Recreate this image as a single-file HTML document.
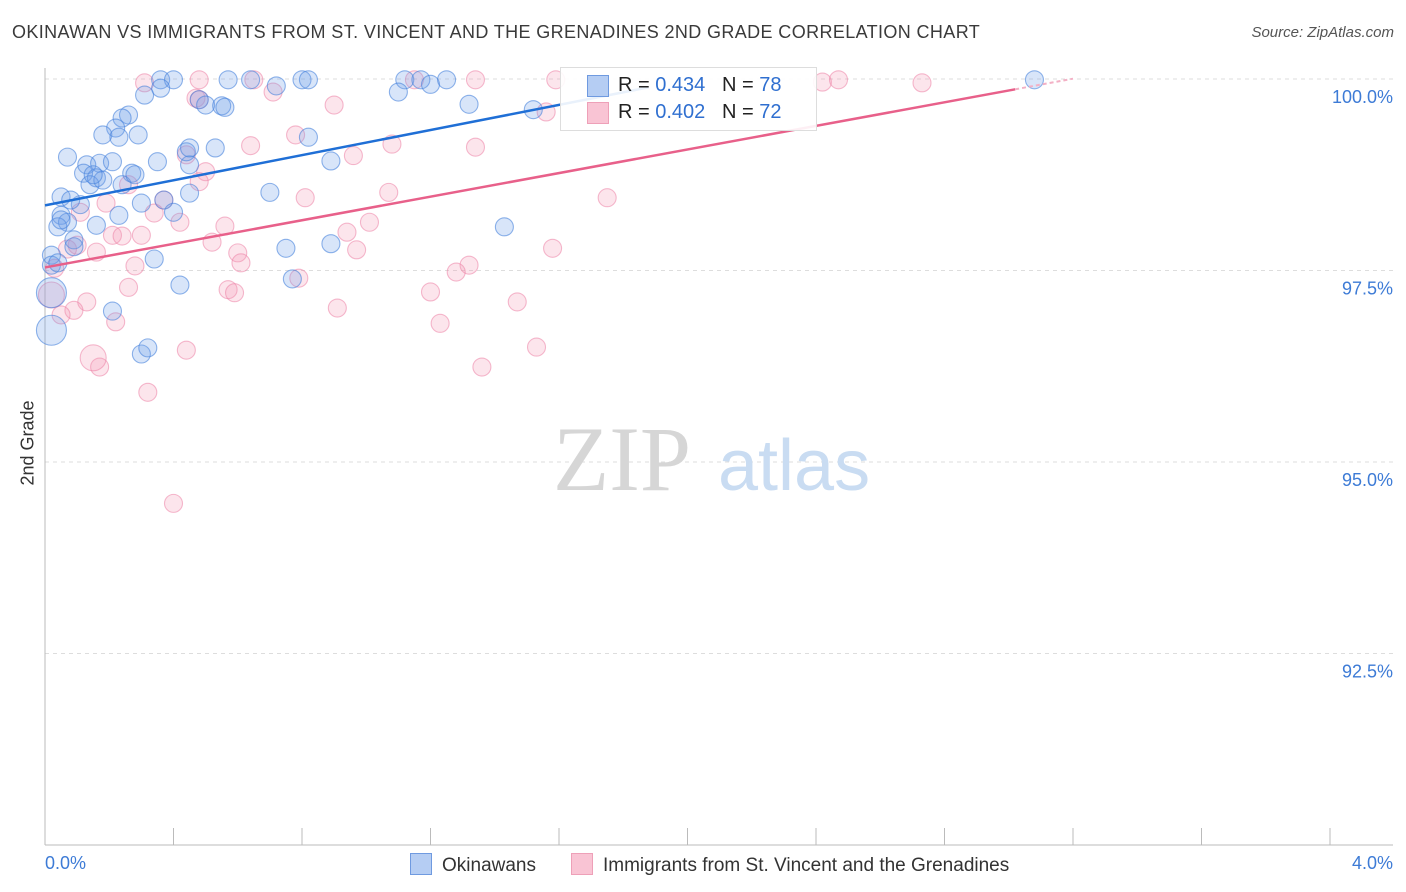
<!DOCTYPE html>
<html><head><meta charset="utf-8"><style>
body{margin:0;background:#fff;font-family:"Liberation Sans",sans-serif}
#wrap{position:relative;width:1406px;height:892px;overflow:hidden}
.t{position:absolute;white-space:nowrap}
</style></head><body>
<div id="wrap">
<div class="t" style="left:12px;top:22px;font-size:18px;letter-spacing:0.38px;color:#3a3a3a">OKINAWAN VS IMMIGRANTS FROM ST. VINCENT AND THE GRENADINES 2ND GRADE CORRELATION CHART</div>
<div class="t" style="right:12px;top:24px;font-size:15px;color:#555;font-style:italic">Source: ZipAtlas.com</div>
<svg id="svg" width="1406" height="892" style="position:absolute;left:0;top:0"></svg>
</div>
<script>
const xTicks=[0,0.4,0.8,1.2,1.6,2.0,2.4,2.8,3.2,3.6,4.0];
const yTicks=[100,97.5,95,92.5];
const yTickLabels=["100.0%","97.5%","95.0%","92.5%"];
const blueX=[.36,.40,.64,.57,.80,.82,.72,1.12,1.17,1.20,1.25,3.08,.31,.36,.48,.50,.55,.56,1.10,1.32,1.52,.26,.24,.22,.18,.23,.29,.82,.07,.13,.17,.21,.35,.45,.53,.89,.44,.12,.16,.14,.18,.27,.24,.05,.11,.37,.30,.23,.05,.07,.04,.16,.40,.45,.70,.09,.09,.34,.75,.89,1.43,.02,.02,.42,.77,.21,.30,.32,.04,.08,.05,.28,.45,.15];
const blueY=[99.99,99.99,99.99,99.99,99.99,99.99,99.91,99.99,99.99,99.93,99.99,99.99,99.79,99.88,99.73,99.66,99.65,99.63,99.83,99.67,99.60,99.53,99.49,99.36,99.27,99.24,99.27,99.24,98.98,98.88,98.90,98.92,98.92,98.88,99.10,98.93,99.05,98.77,98.71,98.62,98.68,98.77,98.62,98.46,98.36,98.42,98.38,98.22,98.22,98.13,98.07,98.09,98.26,98.51,98.52,97.90,97.81,97.65,97.79,97.85,98.07,97.70,97.57,97.31,97.39,96.97,96.41,96.49,97.60,98.42,98.16,98.75,99.10,98.75];
const blueBigX=[.02,.02];
const blueBigY=[97.21,96.72];
const pinkX=[.31,.48,.65,.71,.90,1.15,1.34,1.59,2.42,2.47,2.73,1.56,.47,.78,.64,.44,1.08,1.34,.96,.50,.48,.26,.19,.37,.42,.56,.81,1.07,1.75,.11,.34,1.01,.21,.24,.30,.52,.94,.16,.07,.10,.60,.61,.97,1.58,.28,.03,1.32,1.28,.79,.57,.59,.26,.13,.09,.05,.22,1.20,1.47,.91,1.23,.44,.17,1.53,1.36,.32,.40,.48];
const pinkY=[99.95,99.99,99.99,99.83,99.66,99.99,99.99,99.99,99.96,99.99,99.95,99.57,99.75,99.27,99.13,99.01,99.15,99.11,99.00,98.79,98.66,98.62,98.38,98.42,98.13,98.08,98.45,98.52,98.45,98.26,98.25,98.13,97.96,97.95,97.96,97.87,98.00,97.74,97.78,97.83,97.73,97.60,97.77,97.79,97.56,97.53,97.57,97.48,97.40,97.25,97.21,97.28,97.09,96.98,96.92,96.83,97.22,97.09,97.01,96.81,96.46,96.24,96.50,96.24,95.91,94.46,99.73];
const pinkBigX=[.02,.15];
const pinkBigY=[97.18,96.36];
const blueTrend=[98.35,0.82]; // intercept, slope
const pinkTrend=[97.54,0.77];

const svg=document.getElementById('svg');
const NS='http://www.w3.org/2000/svg';
const X0=45,X1=1330,Y100=79,PXPER=76.6;
const sx=v=>X0+(X1-X0)*v/4;
const sy=v=>Y100+(100-v)*PXPER;
function mk(tag,attrs,parent){const e=document.createElementNS(NS,tag);for(const k in attrs)e.setAttribute(k,attrs[k]);(parent||svg).appendChild(e);return e;}

yTicks.forEach((t,i)=>{
 const g=mk('line',{x1:X0,x2:1393,y1:sy(t),y2:sy(t),stroke:'#ddd','stroke-dasharray':'4,4'});
 
 
 const tx=mk('text',{x:1393,y:sy(t)+24,'text-anchor':'end','font-size':18,fill:'#3d7bd6','font-family':'Liberation Sans'});
 tx.textContent=yTickLabels[i];
 
 
});
const ya=mk('line',{x1:X0,x2:X0,y1:68,y2:845,stroke:'#bbb'});


const xa=mk('line',{x1:X0,x2:1393,y1:845,y2:845,stroke:'#bbb'});


xTicks.forEach(t=>{
 const l=mk('line',{x1:sx(t),x2:sx(t),y1:828,y2:845,stroke:'#bbb'});
 
 
});
const wm=mk('text',{x:553,y:490,'font-size':92,fill:'#d6d6d6','font-family':'Liberation Serif'});
wm.textContent='ZIP';


const wm2=mk('text',{x:718,y:490,'font-size':72,fill:'#c9dcf2','font-family':'Liberation Sans'});
wm2.textContent='atlas';



function dots(xs,ys,r,fill,stroke,name){
 xs.forEach((x,i)=>{
  const c=mk('circle',{cx:sx(x),cy:sy(ys[i]),r:r,fill:fill,stroke:stroke,'stroke-width':1.1});
  
  
 });
}
dots(pinkX,pinkY,9,'rgba(244,150,180,0.25)','rgba(236,130,165,0.55)','pink-point');
dots(pinkBigX,pinkBigY,13,'rgba(244,150,180,0.25)','rgba(236,130,165,0.55)','pink-point');
dots(blueX,blueY,9,'rgba(110,160,232,0.27)','rgba(70,130,220,0.6)','blue-point');
dots(blueBigX,blueBigY,15,'rgba(110,160,232,0.27)','rgba(70,130,220,0.6)','blue-point');

const bl=mk('line',{x1:sx(0),y1:sy(blueTrend[0]),x2:sx(1.88),y2:sy(blueTrend[0]+blueTrend[1]*1.88),stroke:'#1f6fd6','stroke-width':2.5});


const pl=mk('line',{x1:sx(0),y1:sy(pinkTrend[0]),x2:sx(3.02),y2:sy(pinkTrend[0]+pinkTrend[1]*3.02),stroke:'#e8608a','stroke-width':2.5});


const pld=mk('line',{x1:sx(3.02),y1:sy(pinkTrend[0]+pinkTrend[1]*3.02),x2:sx(3.2),y2:sy(pinkTrend[0]+pinkTrend[1]*3.2),stroke:'#f3b0c5','stroke-width':2,'stroke-dasharray':'4,3'});


</script>
<div class="t" style="left:560px;top:67px;width:255px;height:62px;background:rgba(255,255,255,0.9);border:1px solid #ddd"></div>
<div class="t" style="left:587px;top:75px;width:20px;height:20px;background:#b5cdf3;border:1px solid #6f9ae0"></div>
<div class="t" style="left:618px;top:74px;font-size:20px;color:#222">R = <span style="color:#2f6fd0">0.434</span>&nbsp;&nbsp;&nbsp;N = <span style="color:#2f6fd0">78</span></div>
<div class="t" style="left:587px;top:102px;width:20px;height:20px;background:#f9c4d4;border:1px solid #eea0b8"></div>
<div class="t" style="left:618px;top:101px;font-size:20px;color:#222">R = <span style="color:#2f6fd0">0.402</span>&nbsp;&nbsp;&nbsp;N = <span style="color:#2f6fd0">72</span></div>
<div class="t" style="left:-2px;top:445px;font-size:18px;color:#333;transform:rotate(-90deg);transform-origin:center;width:60px;text-align:center">2nd Grade</div>
<div class="t" style="left:45px;top:853px;font-size:18px;color:#3d7bd6">0.0%</div>
<div class="t" style="right:13px;top:853px;font-size:18px;color:#3d7bd6">4.0%</div>
<div class="t" style="left:410px;top:853px;font-size:19px;color:#333"><span style="display:inline-block;width:20px;height:20px;background:#b5cdf3;border:1px solid #6f9ae0;vertical-align:-4px;margin-right:10px"></span>Okinawans</div>
<div class="t" style="left:571px;top:853px;font-size:19px;color:#333"><span style="display:inline-block;width:20px;height:20px;background:#f9c4d4;border:1px solid #eea0b8;vertical-align:-4px;margin-right:10px"></span>Immigrants from St. Vincent and the Grenadines</div>
</body></html>
